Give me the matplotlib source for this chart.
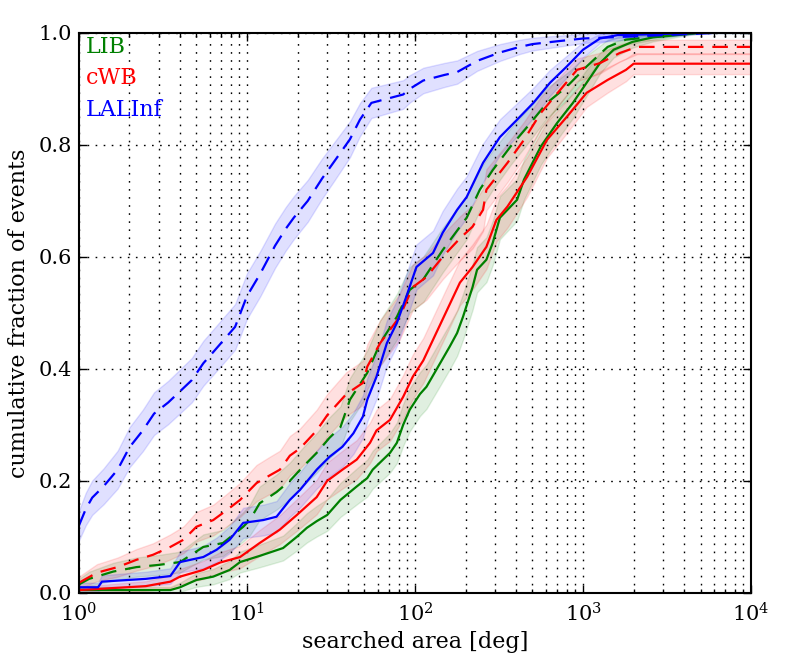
import numpy as np
import matplotlib
matplotlib.use('Agg')
import matplotlib.pyplot as plt

plt.rcParams['font.family'] = ['DejaVu Serif']
plt.rcParams['mathtext.fontset'] = 'dejavuserif'

# searched area [deg] vs cumulative fraction
lib_solid_x = [1.0, 3.5, 4.0, 5.0, 6.3, 7.9, 9.1, 11.9, 16.4, 19.8, 22.7, 26, 30, 36, 45, 52, 56, 71, 78, 85,
               93, 107, 117, 141, 161, 178, 193, 220, 234, 266, 290, 320, 405, 445, 560, 700, 870, 1050, 1260,
               1520, 1970, 2600, 5000, 10000]
lib_solid_y = [0.005, 0.005, 0.01, 0.023, 0.029, 0.041, 0.055, 0.066, 0.08, 0.1, 0.116, 0.128, 0.139, 0.166,
               0.19, 0.205, 0.22, 0.25, 0.268, 0.3, 0.327, 0.355, 0.368, 0.41, 0.44, 0.464, 0.493, 0.546, 0.577,
               0.595, 0.625, 0.67, 0.702, 0.738, 0.797, 0.839, 0.875, 0.911, 0.946, 0.97, 0.984, 0.992, 1.0, 1.0]

lib_dash_x = [1.0, 1.15, 1.6, 2.2, 3.0, 4.0, 5.5, 7.2, 9.5, 10.4, 11.9, 15, 18, 21.5, 26, 31, 36, 41, 52, 62,
              78, 93, 112, 146, 203, 243, 290, 370, 465, 610, 800, 1050, 1400, 1800, 4500, 10000]
lib_dash_y = [0.015, 0.025, 0.038, 0.046, 0.05, 0.055, 0.082, 0.089, 0.118, 0.13, 0.16, 0.18, 0.2, 0.225,
              0.25, 0.277, 0.296, 0.345, 0.393, 0.446, 0.493, 0.541, 0.56, 0.612, 0.67, 0.72, 0.755, 0.797,
              0.832, 0.875, 0.904, 0.94, 0.975, 0.988, 1.0, 1.0]

cwb_solid_x = [1.0, 2.5, 3.5, 4.0, 5.5, 6.9, 9.1, 11.9, 15.7, 19.8, 26, 30, 37, 45, 54, 59, 71, 85, 97, 112,
               128, 155, 185, 220, 266, 305, 355, 465, 610, 800, 1050, 1400, 1800, 2000, 10000]
cwb_solid_y = [0.005, 0.012, 0.02, 0.029, 0.041, 0.054, 0.064, 0.089, 0.113, 0.139, 0.171, 0.2, 0.22, 0.238,
               0.268, 0.29, 0.309, 0.35, 0.386, 0.415, 0.452, 0.505, 0.554, 0.582, 0.618, 0.666, 0.69, 0.743,
               0.809, 0.85, 0.893, 0.916, 0.934, 0.945, 0.945]

cwb_dash_x = [1.0, 1.28, 1.7, 2.2, 2.76, 3.5, 4.2, 5.0, 6.3, 7.6, 9.1, 11.4, 13.7, 15.7, 18, 20.7, 26, 30, 39,
              49, 52, 62, 81, 97, 117, 146, 185, 220, 254, 266, 355, 445, 560, 730, 920, 1260, 1650, 2100, 10000]
cwb_dash_y = [0.018, 0.036, 0.046, 0.059, 0.068, 0.082, 0.095, 0.118, 0.13, 0.148, 0.166, 0.196, 0.21, 0.22,
              0.245, 0.258, 0.29, 0.317, 0.355, 0.375, 0.404, 0.446, 0.493, 0.546, 0.564, 0.6, 0.633, 0.654,
              0.684, 0.72, 0.768, 0.809, 0.857, 0.898, 0.934, 0.946, 0.964, 0.975, 0.975]

lal_solid_x = [1.0, 1.3, 1.37, 2.5, 3.5, 4.0, 5.5, 6.6, 7.9, 9.1, 9.5, 12.5, 15, 18, 20.7, 26, 31, 37, 43, 49,
               52, 59, 68, 78, 89, 102, 128, 146, 178, 203, 254, 320, 405, 506, 636, 800, 1000, 1260, 1600,
               5000, 10000]
lal_solid_y = [0.01, 0.01, 0.02, 0.025, 0.03, 0.055, 0.064, 0.077, 0.095, 0.118, 0.125, 0.13, 0.136, 0.166,
               0.184, 0.22, 0.243, 0.261, 0.285, 0.315, 0.345, 0.386, 0.446, 0.482, 0.53, 0.582, 0.607, 0.643,
               0.684, 0.707, 0.768, 0.814, 0.845, 0.875, 0.911, 0.94, 0.97, 0.99, 0.996, 1.0, 1.0]

lal_dash_x = [1.0, 1.1, 1.2, 1.4, 1.7, 2.0, 2.4, 2.8, 3.4, 4.0, 4.7, 5.5, 6.3, 7.2, 8.5, 10, 12, 14.7, 17, 19,
              23, 28, 33, 41, 47, 55, 85, 93, 112, 150, 178, 234, 320, 420, 500, 700, 1000, 6100, 10000]
lal_dash_y = [0.12, 0.15, 0.17, 0.19, 0.22, 0.26, 0.29, 0.32, 0.34, 0.36, 0.38, 0.41, 0.43, 0.45, 0.475, 0.53,
              0.57, 0.62, 0.65, 0.67, 0.70, 0.74, 0.77, 0.81, 0.845, 0.875, 0.89, 0.90, 0.915, 0.925, 0.93,
              0.95, 0.965, 0.975, 0.98, 0.985, 0.99, 1.0, 1.0]

n_events = 150  # effective events per set, for the binomial error band

curves = [
    (lib_solid_x, lib_solid_y, 'g', '-'),
    (lib_dash_x, lib_dash_y, 'g', '--'),
    (cwb_solid_x, cwb_solid_y, 'r', '-'),
    (cwb_dash_x, cwb_dash_y, 'r', '--'),
    (lal_solid_x, lal_solid_y, 'b', '-'),
    (lal_dash_x, lal_dash_y, 'b', '--'),
]

fig = plt.figure(figsize=(7.89, 6.58), dpi=100)
ax = fig.add_axes([0.100, 0.099, 0.852, 0.851])

for x, y, c, ls in curves:
    x = np.array(x)
    y = np.array(y)
    err = np.sqrt(y * (1 - y) / n_events)
    ax.fill_between(x, y - err, y + err, color=c, alpha=0.12, lw=1)
    if ls == '--':
        ax.plot(x, y, color=c, lw=1.6, linestyle=(0, (7, 4)))
    else:
        ax.plot(x, y, color=c, lw=1.6)

ax.set_xscale('log')
ax.set_xlim(1, 1e4)
ax.set_ylim(0, 1)
ax.set_yticks(np.arange(0, 1.01, 0.2))
ax.yaxis.set_major_formatter(plt.FormatStrFormatter('%.1f'))

ax.grid(True, which='major', axis='both', color='k', lw=1.0, linestyle=(0, (1.2, 4.6)))
ax.grid(True, which='minor', axis='x', color='k', lw=1.0, linestyle=(0, (1.2, 4.6)))

ax.tick_params(which='both', direction='in', top=True, right=True, labelsize=15)
ax.tick_params(which='major', length=6, width=1)
ax.tick_params(which='minor', length=3, width=1)
ax.tick_params(axis='x', which='major', pad=7)
ax.tick_params(axis='y', which='major', pad=5)
for s in ax.spines.values():
    s.set_linewidth(1.5)

ax.set_xlabel('searched area [deg]', fontsize=16, labelpad=4)
ax.set_ylabel('cumulative fraction of events', fontsize=16, labelpad=6)

ax.text(0.0104, 0.975, 'LIB', color='g', fontsize=16, va='center', transform=ax.transAxes)
ax.text(0.0104, 0.92, 'cWB', color='r', fontsize=16, va='center', transform=ax.transAxes)
ax.text(0.0104, 0.8625, 'LALInf', color='b', fontsize=16, va='center', transform=ax.transAxes)

fig.savefig('out.png', dpi=100)
